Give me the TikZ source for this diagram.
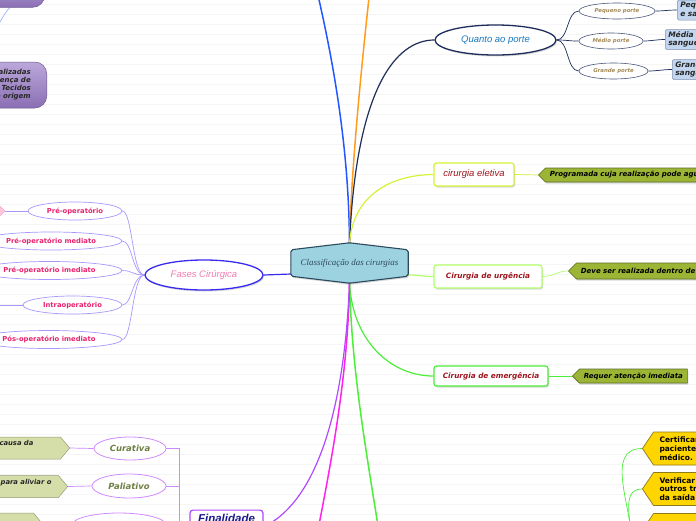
\documentclass[tikz,border=0pt]{standalone}
\usepackage{fontspec}
\setmainfont{DejaVu Sans}
\newfontfamily\arialfont{Liberation Sans}
\newfontfamily\handfont{Liberation Serif}
\usetikzlibrary{arrows.meta,positioning,shapes.geometric,shapes.symbols,shadows,backgrounds}

\definecolor{hubfill}{HTML}{9DD2E0}
\definecolor{hubdraw}{HTML}{2C4A5E}
\definecolor{navyline}{HTML}{1E2D5A}
\definecolor{porteblue}{HTML}{1878C0}
\definecolor{portegold}{HTML}{A58A55}
\definecolor{paleblue}{HTML}{C3D6EF}
\definecolor{olivebox}{HTML}{9DB535}
\definecolor{olivedraw}{HTML}{5B6B25}
\definecolor{darkred}{HTML}{A0151E}
\definecolor{eletivaline}{HTML}{D8F23A}
\definecolor{urgline}{HTML}{B2FF6A}
\definecolor{emergline}{HTML}{4CEE38}
\definecolor{fasesline}{HTML}{3A2BF0}
\definecolor{fasespink}{HTML}{F07CB0}
\definecolor{phasepink}{HTML}{E8246E}
\definecolor{phaseline}{HTML}{A698FF}
\definecolor{finline}{HTML}{B048FF}
\definecolor{finchild}{HTML}{D08AFF}
\definecolor{finolive}{HTML}{6F7F42}
\definecolor{finnavy}{HTML}{1A1A8C}
\definecolor{palegreen}{HTML}{D5DEA9}
\definecolor{magline}{HTML}{FF22EE}
\definecolor{gold}{HTML}{FFD500}
\definecolor{golddraw}{HTML}{8C7A1D}
\definecolor{topblue}{HTML}{2257FF}
\definecolor{toporange}{HTML}{FF9C1C}
\definecolor{lilactop}{HTML}{BBA8DA}
\definecolor{lilacbottom}{HTML}{8A6FB4}
\definecolor{markpink}{HTML}{FFC6DC}

\begin{document}
\begin{tikzpicture}[
    x=1pt, y=-1pt,
    stripe/.style={draw=black!4, line width=0.8pt},
    branch/.style={line width=1.5pt},
    twig/.style={line width=0.7pt},
    softshadow/.style={drop shadow={shadow xshift=1pt, shadow yshift=-1.5pt, opacity=0.3}},
    hubshape/.style={fill=hubfill, draw=hubdraw, line width=1.1pt, rounded corners=2pt, softshadow},
    hub/.style={minimum width=117, minimum height=26, inner sep=0, text=hubdraw, font=\handfont\itshape\fontsize{8.9}{10}\selectfont},
    bigoval/.style={ellipse, fill=white, minimum height=30, inner sep=0, line width=1.3pt, font=\arialfont\itshape\fontsize{9.5}{11}\selectfont, softshadow},
    sizeoval/.style={ellipse, draw=navyline!80, line width=0.6pt, fill=white, minimum height=16, inner sep=0, text=portegold, font=\bfseries\itshape\fontsize{5.4}{6}\selectfont},
    lossbox/.style={rectangle, rounded corners=1.5pt, fill=paleblue, draw=paleblue!60!navyline, line width=0.5pt, minimum height=20, inner xsep=3pt, inner ysep=1pt, align=left, anchor=west, text=black!85, font=\bfseries\itshape\fontsize{7.5}{8.6}\selectfont},
    kindbox/.style={rectangle, rounded corners=2.5pt, fill=white, line width=1.2pt, inner sep=0, minimum height=23, text=darkred, softshadow},
    note/.style={signal, signal to=west, signal pointer angle=90, fill=olivebox, draw=olivedraw, line width=0.6pt, minimum height=14, inner xsep=4.5pt, inner ysep=0, anchor=west, font=\bfseries\itshape\fontsize{7}{8}\selectfont, softshadow},
    checknote/.style={signal, signal to=west, signal pointer angle=112, fill=gold, draw=golddraw, line width=0.7pt, minimum height=33, minimum width=80, inner xsep=6pt, inner ysep=1pt, anchor=west, align=left, font=\bfseries\fontsize{7.5}{8.7}\selectfont},
    phase/.style={ellipse, draw=phaseline, line width=0.7pt, fill=white, minimum height=18, inner sep=0, text=phasepink, font=\bfseries\fontsize{6.8}{8}\selectfont},
    goal/.style={ellipse, draw=finchild, line width=0.8pt, fill=white, minimum height=23, inner sep=0, text=finolive, font=\bfseries\itshape\fontsize{8.5}{10}\selectfont},
    aim/.style={signal, signal to=east, signal pointer angle=100, fill=palegreen, draw=palegreen!70!black, line width=0.5pt, minimum height=22, minimum width=90, inner xsep=3pt, inner ysep=1pt, anchor=east, align=left, text=black!85, font=\bfseries\itshape\fontsize{6.8}{8}\selectfont},
    lilacbox/.style={rectangle, rounded corners=12pt, top color=lilactop, bottom color=lilacbottom, draw=lilacbottom!80!black, line width=0.5pt}
  ]
    \useasboundingbox (0,0) rectangle (696,520);
    \clip (0,0) rectangle (696,520);

    \node[hub] (classif) at (349.5,263) {Classificação das cirurgias};
    \coordinate (hubtop) at ([yshift=6pt]classif.north);
    \coordinate (hubbot) at ([yshift=-6pt]classif.south);
    \coordinate (hubright) at ([yshift=-12pt]classif.east);
    \coordinate (hubleft) at ([yshift=-11pt]classif.west);
    \coordinate (upleft) at (312,-30);
    \coordinate (upright) at (372,-30);
    \coordinate (downgreen) at (385,570);
    \coordinate (downmag) at (310,570);

    \node[bigoval, draw=navyline, text=porteblue, minimum width=121] (porte) at (495.5,40) {Quanto ao porte};
    \node[sizeoval, minimum width=76] (pequeno) at (617,11) {Pequeno porte};
    \node[sizeoval, minimum width=64] (medio) at (611,41) {Médio porte};
    \node[sizeoval, minimum width=69] (grande) at (613.5,71) {Grande porte};
    \node[lossbox] (pequenoloss) at (677,10) {Pequena perda\\e sangue};
    \node[lossbox] (medioloss) at (665,39.5) {Média perda\\sangue};
    \node[lossbox] (grandeloss) at (672,69.5) {Grande perda\\sangue};

    \node[kindbox, draw=eletivaline, minimum width=80, font=\arialfont\itshape\fontsize{9.5}{11}\selectfont] (eletiva) at (474,174.5) {cirurgia eletiva};
    \node[note] (eletivanote) at (538,175) {Programada cuja realização pode aguardar};
    \node[kindbox, draw=urgline, minimum width=108, font=\bfseries\itshape\fontsize{7.3}{9}\selectfont] (urgencia) at (488,276.5) {Cirurgia de urgência};
    \node[note, minimum height=16] (urgencianote) at (568,271) {Deve ser realizada dentro de 24 a 48 horas};
    \node[kindbox, draw=emergline, minimum width=114, minimum height=20, font=\bfseries\itshape\fontsize{7.3}{9}\selectfont] (emergencia) at (491,376) {Cirurgia de emergência};
    \node[note] (emergencianote) at (572,376) {Requer atenção imediata};

    \node[checknote] (certificar) at (642,448.5) {Certificar se o\\paciente foi visto\\médico.};
    \node[checknote] (verificar) at (642,489) {Verificar se há\\outros tratamentos\\da saída};
    \node[checknote] (terceira) at (642,530) {};
    \coordinate (checkroot) at (632,545);

    \node[bigoval, draw=fasesline, text=fasespink, minimum width=118] (fases) at (204,275) {Fases Cirúrgica};
    \node[phase, minimum width=94] (preop) at (75,211) {Pré-operatório};
    \node[phase, minimum width=142] (mediato) at (51,241) {Pré-operatório mediato};
    \node[phase, minimum width=145] (imediato) at (49.5,270.5) {Pré-operatório imediato};
    \node[phase, minimum width=99] (intraop) at (72.5,305) {Intraoperatório};
    \node[phase, minimum width=146] (posop) at (49,339.5) {Pós-operatório imediato};
    \node[diamond, fill=markpink, draw=phasepink!45, minimum size=18, inner sep=0] (preopmark) at (-4,211) {};
    \coordinate (intraend) at (-20,305);

    \node[rectangle, rounded corners=3pt, draw=finline, line width=1.2pt, fill=white, minimum width=73, anchor=north, inner ysep=4.5pt, text=finnavy, font=\arialfont\bfseries\itshape\fontsize{11.5}{13}\selectfont] (finalidade) at (226.5,509.5) {Finalidade};
    \node[goal, minimum width=72] (curativa) at (130,448.5) {Curativa};
    \node[goal, minimum width=74, minimum height=24] (paliativo) at (129,486) {Paliativo};
    \node[goal, minimum width=94, minimum height=24] (terceiro) at (119,525) {};
    \node[aim] (curativanote) at (70,448) {Remover a causa da\hspace*{24pt}\\doença};
    \node[aim] (paliativonote) at (68,486.5) {Realizada para aliviar o\hspace*{4pt}\\quadro};
    \node[aim] (terceironote) at (43,524) {};

    \node[lilacbox, minimum width=100, minimum height=30, anchor=south east] (topbox) at (45,7.5) {};
    \node[lilacbox, anchor=east, align=right, inner xsep=16pt, minimum height=46, text=black!85, font=\bfseries\itshape\fontsize{7}{8}\selectfont] (tecidos) at (47,85) {Cirurgias realizadas\\na presença de\\Tecidos\\de origem};
    \coordinate (leftroot) at (-10,40);

    \begin{scope}[on background layer]
      \clip (0,0) rectangle (696,520);
      \fill[white] (0,0) rectangle (696,520);
      \foreach \y in {4,14,...,514}
        \draw[stripe] (0,\y) -- (696,\y);
      \draw[branch, topblue] (hubtop) .. controls (349,150) and (334,60) .. (upleft);
      \draw[branch, toporange] (hubtop) .. controls (351,170) and (362,60) .. (upright);
      \draw[branch, navyline, line width=1.2pt] (hubtop) .. controls (356,90) and (395,40) .. (porte.west);
      \draw[branch, eletivaline, line width=1.2pt] (hubtop) .. controls (352,200) and (385,175) .. (eletiva.west);
      \draw[branch, urgline, line width=1.2pt] (hubright) to[out=0, in=180] (urgencia.west);
      \draw[branch, emergline, line width=1.2pt] (hubbot) .. controls (352,340) and (390,376) .. (emergencia.west);
      \draw[branch, emergline] (hubbot) .. controls (352,380) and (368,460) .. (downgreen);
      \draw[branch, magline] (hubbot) .. controls (348,380) and (330,470) .. (downmag);
      \draw[branch, finline, line width=1.2pt] (hubbot) .. controls (345,400) and (320,500) .. ([yshift=-8pt]finalidade.east);
      \draw[branch, fasesline, line width=1.2pt] (hubleft) -- (fases.east);
      \foreach \kid in {pequeno,medio,grande}
        \draw[twig, navyline] (porte.east) .. controls +(12,0) and +(-12,0) .. (\kid.west);
      \draw[twig, navyline] (pequeno.east) to[out=0, in=180] (pequenoloss.west);
      \draw[twig, navyline] (medio.east) to[out=0, in=180] (medioloss.west);
      \draw[twig, navyline] (grande.east) to[out=0, in=180] (grandeloss.west);
      \draw[twig, eletivaline] (eletiva.east) -- (eletivanote.west);
      \draw[twig, urgline] (urgencia.east) to[out=0, in=180] (urgencianote.west);
      \draw[twig, emergline] (emergencia.east) -- (emergencianote.west);
      \foreach \kid in {certificar,verificar,terceira}
        \draw[twig, emergline] (checkroot) to[out=90, in=180] (\kid.west);
      \foreach \kid in {preop,mediato,imediato,intraop,posop}
        \draw[twig, phaseline] (\kid.east) .. controls +(10,0) and +(-12,0) .. (fases.west);
      \draw[twig, phaseline] (preop.west) -- (preopmark.east);
      \draw[twig, phaseline] (intraop.west) -- (intraend);
      \foreach \kid in {curativa,paliativo,terceiro}
        \draw[twig, finchild] (\kid.east) -- ++(13,0) |- ([yshift=-10pt]finalidade.west);
      \draw[twig, finchild] (curativanote.east) -- (curativa.west);
      \draw[twig, finchild] (paliativonote.east) -- (paliativo.west);
      \draw[twig, finchild] (terceironote.east) -- (terceiro.west);
      \draw[twig, topblue!45] (leftroot) .. controls (0,22) and (5,12) .. ([xshift=-35pt]topbox.south east);
      \draw[hubshape] (classif.north west) -- ([yshift=7pt]classif.north) -- (classif.north east)
        -- (classif.south east) -- ([yshift=-7pt]classif.south) -- (classif.south west) -- cycle;
    \end{scope}
  \end{tikzpicture}
\end{document}
